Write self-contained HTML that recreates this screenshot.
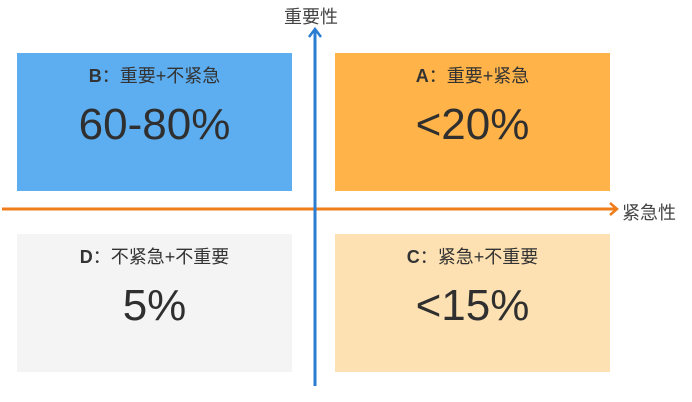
<!DOCTYPE html>
<html><head><meta charset="utf-8"><style>
body{margin:0;width:692px;height:402px;background:#fff;overflow:hidden;position:relative;font-family:"Liberation Sans","Noto Sans CJK SC",sans-serif;color:#333}
.q{position:absolute;width:275px;height:138px;text-align:center}
.t{margin-top:12px;font-size:18px;line-height:22px}
.t b{font-weight:bold}
.v{font-size:44px;line-height:50px;margin-top:13px;color:#2f2f2f}
.lbl{position:absolute;font-size:18px;color:#444}
</style></head><body>
<div class="q" style="left:17px;top:53px;background:#5daef0"><div class="t"><b>B</b>：重要+不紧急</div><div class="v">60-80%</div></div>
<div class="q" style="left:335px;top:53px;background:#ffb348"><div class="t"><b>A</b>：重要+紧急</div><div class="v">&lt;20%</div></div>
<div class="q" style="left:17px;top:234px;background:#f4f4f4"><div class="t"><b>D</b>：不紧急+不重要</div><div class="v">5%</div></div>
<div class="q" style="left:335px;top:234px;background:#fde1b2"><div class="t"><b>C</b>：紧急+不重要</div><div class="v">&lt;15%</div></div>
<svg width="692" height="402" style="position:absolute;left:0;top:0">
<line x1="2" y1="209" x2="616" y2="209" stroke="#ee7d1a" stroke-width="3"/>
<polyline points="610,203 617,209 610,215" fill="none" stroke="#ee7d1a" stroke-width="2.5"/>
<line x1="315" y1="386" x2="315" y2="30" stroke="#2a7ed2" stroke-width="3"/>
<polyline points="309,37 315,29 321,37" fill="none" stroke="#2a7ed2" stroke-width="2.5"/>
</svg>
<div class="lbl" style="left:284px;top:3px">重要性</div>
<div class="lbl" style="left:622px;top:199px">紧急性</div>
</body></html>
